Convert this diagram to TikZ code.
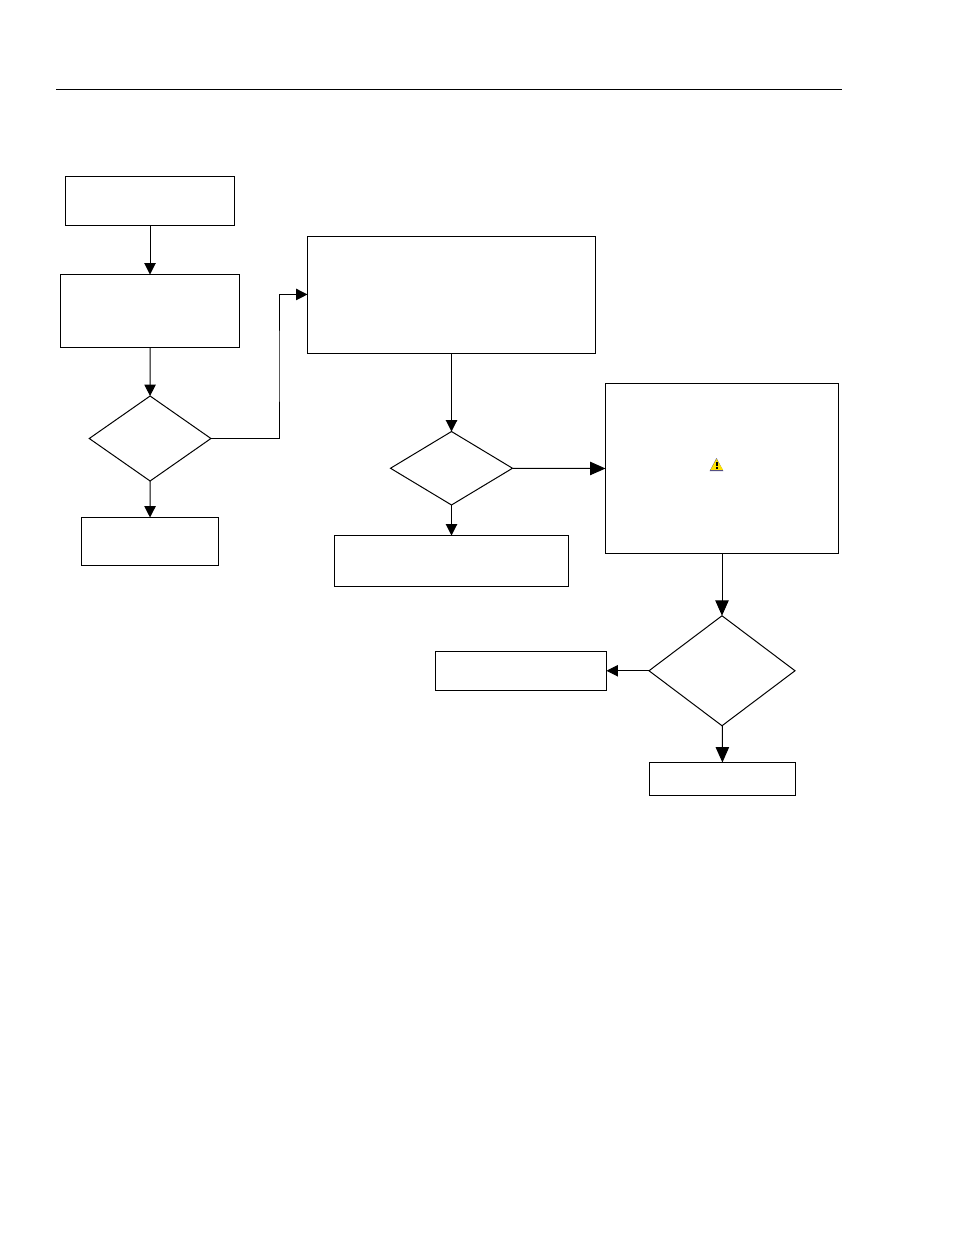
\documentclass[tikz,border=0pt]{standalone}
\usetikzlibrary{shapes.geometric,arrows.meta}
\definecolor{iconyellow}{RGB}{255,226,0}
\definecolor{iconedge}{RGB}{85,80,130}
\tikzset{
  every path/.style={line width=0.75pt},
  stepbox/.style={draw=black,rectangle,inner sep=0pt,outer sep=0pt},
  choice/.style={draw=black,diamond,inner sep=0pt,outer sep=0pt},
  flow/.style={draw=black,-{Triangle[length=8.5pt,width=8.5pt]}},
  bigflow/.style={draw=black,-{Triangle[length=11.5pt,width=10pt]}},
}
\begin{document}
\begin{tikzpicture}[x=0.75pt,y=-0.75pt]
\useasboundingbox (0,0) rectangle (954,1235);
\coordinate (ruleL) at (56,89.5);
\coordinate (ruleR) at (842,89.5);
\draw (ruleL) -- (ruleR);

\node[stepbox,minimum width=126.75pt,minimum height=36.75pt] (b1) at (150,201) {};
\node[stepbox,minimum width=134.25pt,minimum height=54.75pt] (b2) at (150,311) {};
\node[choice,minimum width=91.25pt,minimum height=63.75pt] (d1) at (150.1,438.5) {};
\node[stepbox,minimum width=102.75pt,minimum height=36pt] (b3) at (150,541.5) {};
\node[stepbox,minimum width=216pt,minimum height=87.75pt] (b4) at (451.5,295) {};
\node[choice,minimum width=91.5pt,minimum height=55.1pt] (d2) at (451.5,468.25) {};
\node[stepbox,minimum width=175.5pt,minimum height=38.25pt] (b5) at (451.5,561) {};
\node[stepbox,minimum width=174.75pt,minimum height=127.5pt] (b6) at (722,468.5) {};
\node[choice,minimum width=109.5pt,minimum height=82.5pt] (d3) at (722,670.75) {};
\node[stepbox,minimum width=128.25pt,minimum height=29.25pt] (b7) at (521,671) {};
\node[stepbox,minimum width=109.5pt,minimum height=24.75pt] (b8) at (722.5,779) {};

\coordinate (elbow) at (279,366);
\coordinate (b4in) at ([yshift=0.4pt]b4.west);
\draw[flow] (b1) -- (b2);
\draw[flow] (b2) -- (d1);
\draw[flow] (d1) -- (b3);
\draw[flow] (d1.east) -| (elbow) |- (b4in);
\draw[flow] (b4) -- (d2);
\draw[flow] (d2) -- (b5);
\draw[bigflow] (d2.east) -- (b6.west);
\draw[bigflow] (b6) -- (d3);
\draw[flow] (d3.west) -- (b7.east |- d3.west);
\draw[bigflow] (d3) -- (b8);

% warning icon
\fill[iconedge] (716.5,458) -- (723.3,471) -- (709.7,471) -- cycle;
\fill[iconyellow] (716.5,459) -- (723,469.8) -- (710.6,469.8) -- cycle;
\fill[black] (715.5,462) rectangle (717.5,466.3);
\fill[black] (715.5,467.2) rectangle (717.5,469);
\end{tikzpicture}
\end{document}
